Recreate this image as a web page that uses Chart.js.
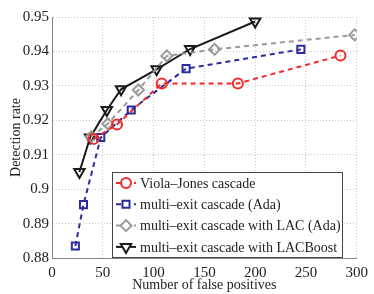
<!DOCTYPE html>
<html>
<head>
<meta charset="utf-8">
<script src="https://cdn.jsdelivr.net/npm/chart.js@4/dist/chart.umd.min.js"></script>
<style>
  body { margin: 0; background: #fff; }
</style>
</head>
<body>
<canvas id="myChart" width="374" height="294"></canvas>
<script>
// values
const violaX = [41, 64, 108, 183, 284];
const violaY = [0.9146, 0.9188, 0.9307, 0.9307, 0.9388];
const adaX = [23, 31, 48, 78, 132, 245];
const adaY = [0.8835, 0.8955, 0.915, 0.923, 0.935, 0.9406];
const lacX = [38.5, 55, 85, 113, 160, 298];
const lacY = [0.9152, 0.919, 0.9288, 0.9387, 0.9406, 0.9448];
const boostX = [27, 37.5, 54, 68, 103, 136, 200];
const boostY = [0.905, 0.915, 0.923, 0.929, 0.9348, 0.9407, 0.9487];
const seriesNames = [
    'Viola–Jones cascade',
    'multi–exit cascade (Ada)',
    'multi–exit cascade with LAC (Ada)',
    'multi–exit cascade with LACBoost'
];

const toPts = (xs, ys) => xs.map((x, i) => ({ x: x, y: ys[i] }));
const serif = 'Liberation Serif';

// legend drawn inside the plot, like the matlab one
const insideLegend = {
    id: 'insideLegend',
    afterDraw(chart) {
        const ctx = chart.ctx;
        const left = 112, top = 172, w = 230, h = 85;
        ctx.save();
        ctx.fillStyle = '#fff';
        ctx.fillRect(left, top, w, h);
        ctx.strokeStyle = '#444';
        ctx.lineWidth = 1;
        ctx.strokeRect(left + 0.5, top + 0.5, w, h);
        chart.data.datasets.forEach((ds, i) => {
            const y = top + 11 + i * 21.3;
            ctx.strokeStyle = ds.borderColor;
            ctx.lineWidth = ds.borderWidth;
            ctx.setLineDash(ds.borderDash || []);
            ctx.beginPath();
            ctx.moveTo(116, y);
            ctx.lineTo(136, y);
            ctx.stroke();
            ctx.setLineDash([]);
            ctx.fillStyle = '#fff';
            ctx.lineWidth = ds.pointBorderWidth;
            Chart.helpers.drawPoint(ctx, {
                pointStyle: ds.pointStyle,
                rotation: ds.pointRotation || 0,
                radius: ds.pointRadius,
                borderWidth: ds.pointBorderWidth
            }, 126, y);
            ctx.fillStyle = '#222';
            ctx.font = '14px "' + serif + '"';
            ctx.textBaseline = 'middle';
            ctx.fillText(seriesNames[i], 140, y + 1);
        });
        ctx.restore();
    }
};

let ctx = document.getElementById('myChart').getContext('2d');
let rocChart = new Chart(ctx, {
    type: 'line',
    data: {
        datasets: [{
                label: seriesNames[0],
                data: toPts(violaX, violaY),
                borderColor: '#f22a2a',
                borderWidth: 2,
                borderDash: [5, 4],
                pointStyle: 'circle',
                pointRadius: 5,
                pointBorderWidth: 2,
                pointBackgroundColor: 'rgba(0,0,0,0)'
            },
            {
                label: seriesNames[1],
                data: toPts(adaX, adaY),
                borderColor: '#2b2b9c',
                borderWidth: 2,
                borderDash: [5, 4],
                pointStyle: 'rect',
                pointRadius: 5,
                pointBorderWidth: 2,
                pointBackgroundColor: 'rgba(0,0,0,0)'
            },
            {
                label: seriesNames[2],
                data: toPts(lacX, lacY),
                borderColor: '#999999',
                borderWidth: 2,
                borderDash: [5, 4],
                pointStyle: 'rectRot',
                pointRadius: 5.5,
                pointBorderWidth: 2,
                pointBackgroundColor: 'rgba(0,0,0,0)'
            },
            {
                label: seriesNames[3],
                data: toPts(boostX, boostY),
                borderColor: '#1a1a1a',
                borderWidth: 2,
                pointStyle: 'triangle',
                pointRotation: 180,
                pointRadius: 6,
                pointBorderWidth: 2,
                pointBackgroundColor: 'rgba(0,0,0,0)'
            }
        ]
    },
    options: {
        responsive: false,
        animation: false,
        layout: {
            padding: { left: 0, right: 13, top: 17, bottom: 0 }
        },
        plugins: {
            legend: { display: false },
            tooltip: { enabled: false }
        },
        scales: {
            x: {
                type: 'linear',
                min: 0,
                max: 300,
                afterFit: (s) => { s.height = 36; },
                ticks: {
                    stepSize: 50,
                    color: '#222',
                    padding: 6,
                    font: { family: serif, size: 15 }
                },
                grid: { color: '#c8c8c8', drawTicks: false },
                border: { color: '#888', dash: [1, 2] },
                title: {
                    display: true,
                    text: 'Number of false positives',
                    color: '#222',
                    padding: { top: 0, bottom: 0 },
                    font: { family: serif, size: 14 }
                }
            },
            y: {
                min: 0.88,
                max: 0.95,
                afterFit: (s) => { s.width = 52; },
                ticks: {
                    stepSize: 0.01,
                    color: '#222',
                    padding: 3,
                    font: { family: serif, size: 15 },
                    callback: (v) => parseFloat(v.toFixed(2)).toString()
                },
                grid: { color: '#c8c8c8', drawTicks: false },
                border: { color: '#888', dash: [1, 2] },
                title: {
                    display: true,
                    text: 'Detection rate',
                    color: '#222',
                    padding: { top: 8, bottom: 0 },
                    font: { family: serif, size: 14 }
                }
            }
        }
    },
    plugins: [insideLegend]
});
</script>
</body>
</html>
